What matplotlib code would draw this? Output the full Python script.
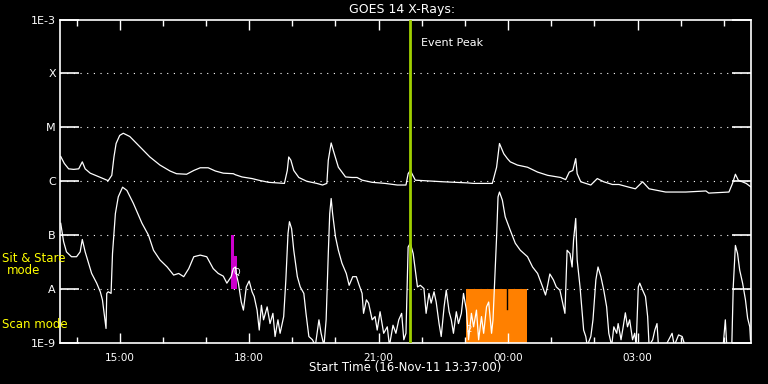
import datetime as dt
import numpy as np
import matplotlib
matplotlib.use('Agg')
import matplotlib.pyplot as plt
import matplotlib.dates as mdates

start = dt.datetime(2011, 11, 16, 13, 37)
span_hours = 16

# long channel (1-8 A): minutes after start, log10 flux
long_min = [1, 6, 12, 19, 26, 31, 35, 42, 51, 60, 67, 72, 75, 78, 83, 88, 97, 111,
            125, 139, 153, 162, 176, 186, 195, 206, 216, 227, 241, 244, 253, 267,
            276, 290, 312, 316, 318, 321, 325, 332, 343, 357, 365, 371, 373, 377,
            380, 387, 397, 406, 413, 420, 434, 452, 469, 481, 484, 487, 494, 533,
            566, 575, 601, 607, 611, 617, 622, 626, 636, 650, 664, 678, 696, 703,
            708, 713, 717, 719, 724, 731, 738, 747, 756, 768, 777, 791, 800, 810,
            819, 842, 870, 898, 902, 930, 935, 939, 943, 954, 960]
long_log = [-5.54, -5.67, -5.77, -5.78, -5.77, -5.64, -5.77, -5.85, -5.90, -5.95,
            -5.99, -5.89, -5.55, -5.30, -5.15, -5.11, -5.17, -5.36, -5.55, -5.70,
            -5.81, -5.86, -5.87, -5.80, -5.75, -5.75, -5.81, -5.85, -5.86, -5.88,
            -5.92, -5.95, -5.98, -6.02, -6.04, -5.80, -5.55, -5.61, -5.80, -5.93,
            -6.00, -6.04, -6.07, -6.04, -5.61, -5.29, -5.43, -5.74, -5.92, -5.93,
            -5.93, -5.98, -6.02, -6.04, -6.07, -6.07, -5.86, -5.80, -5.98, -6.01,
            -6.03, -6.04, -6.04, -5.74, -5.30, -5.49, -5.58, -5.64, -5.70, -5.74,
            -5.83, -5.89, -5.93, -5.97, -5.83, -5.80, -5.58, -5.86, -6.01, -6.04,
            -6.07, -5.95, -6.01, -6.06, -6.06, -6.11, -6.14, -6.01, -6.14, -6.20,
            -6.20, -6.18, -6.22, -6.20, -6.04, -5.87, -5.98, -6.04, -6.10]

# short channel (0.5-4 A)
short_min = [1, 5, 9, 16, 23, 28, 31, 35, 39, 44, 51, 56, 59, 62, 64, 65, 67, 71, 73,
             77, 81, 87, 93, 102, 114, 123, 130, 139, 149, 158, 165, 172, 179, 186,
             195, 204, 213, 220, 227, 232, 238, 241, 244, 246, 248, 252, 255, 259,
             263, 267, 270, 274, 277, 280, 283, 288, 292, 296, 299, 303, 306, 311,
             314, 317, 319, 322, 325, 330, 334, 339, 342, 346, 351, 355, 360, 363,
             367, 370, 373, 375, 377, 379, 383, 387, 392, 398, 402, 407, 412, 416,
             420, 422, 426, 429, 434, 438, 441, 445, 450, 455, 458, 463, 467, 471,
             475, 478, 481, 484, 487, 491, 494, 497, 501, 506, 509, 513, 516, 520,
             523, 527, 530, 534, 537, 541, 544, 547, 551, 554, 558, 561, 565, 568,
             572, 575, 579, 582, 586, 589, 593, 596, 600, 602, 604, 607, 609, 611,
             615, 619, 626, 633, 640, 650, 657, 664, 671, 675, 678, 681, 686, 690,
             695, 700, 702, 705, 709, 712, 714, 717, 719, 723, 726, 728, 731, 733,
             738, 741, 745, 748, 752, 756, 760, 763, 767, 770, 774, 776, 780, 783,
             786, 789, 792, 796, 799, 801, 804, 806, 810, 814, 817, 819, 824, 827,
             830, 832, 842, 851, 854, 860, 865, 869, 907, 922, 925, 927, 934, 936,
             939, 942, 945, 949, 953, 956, 959, 960]
short_log = [-6.78, -7.12, -7.31, -7.40, -7.40, -7.31, -7.08, -7.31, -7.49, -7.71,
             -7.89, -8.05, -8.20, -8.51, -8.73, -8.08, -8.05, -8.08, -7.34, -6.60,
             -6.29, -6.11, -6.17, -6.41, -6.78, -7.00, -7.28, -7.46, -7.59, -7.74,
             -7.71, -7.77, -7.62, -7.40, -7.37, -7.40, -7.62, -7.71, -7.76, -7.89,
             -7.77, -7.62, -7.59, -7.77, -7.89, -8.24, -8.39, -7.96, -7.85, -8.05,
             -8.14, -8.39, -8.76, -8.30, -8.57, -8.33, -8.64, -8.45, -8.88, -8.57,
             -8.82, -8.51, -7.83, -6.97, -6.75, -6.88, -7.28, -7.77, -7.96, -8.08,
             -8.45, -8.88, -8.94, -9.05, -8.57, -8.82, -9.05, -8.57, -7.34, -6.60,
             -6.32, -6.60, -7.03, -7.28, -7.52, -7.71, -7.93, -7.77, -7.77, -7.93,
             -8.08, -8.45, -8.20, -8.26, -8.57, -8.51, -8.76, -8.42, -8.82, -8.70,
             -9.05, -8.67, -8.82, -8.57, -8.45, -8.94, -8.82, -7.22, -7.15, -7.34,
             -7.65, -7.96, -7.93, -7.99, -8.45, -8.08, -8.26, -8.05, -8.24, -8.64,
             -8.88, -8.33, -8.02, -8.42, -8.57, -8.82, -8.42, -8.64, -8.45, -8.08,
             -8.39, -8.94, -8.45, -8.70, -8.39, -8.94, -8.51, -8.82, -8.33, -8.24,
             -8.82, -8.57, -7.96, -7.03, -6.29, -6.20, -6.35, -6.66, -6.91, -7.15,
             -7.28, -7.40, -7.59, -7.71, -7.96, -8.11, -7.93, -7.72, -7.83, -7.96,
             -8.02, -8.33, -8.45, -7.28, -7.34, -7.59, -7.09, -6.69, -7.46, -7.96,
             -8.45, -8.76, -8.88, -9.05, -8.88, -8.57, -7.83, -7.59, -7.77, -8.02,
             -8.33, -8.82, -9.05, -8.70, -8.82, -8.64, -8.94, -8.70, -8.44, -8.70,
             -8.57, -8.94, -8.82, -9.05, -7.96, -7.89, -8.02, -8.14, -8.51, -9.05,
             -8.94, -8.76, -8.64, -9.05, -9.05, -8.82, -9.05, -8.85, -8.88, -9.05,
             -9.05, -9.05, -8.57, -9.05, -9.05, -7.96, -7.19, -7.34, -7.65, -7.89,
             -8.20, -8.54, -8.70, -8.94]

peak_min = 486
stare_min = [238, 242, 246]
stare_top = [-7.0, -7.39, -7.39]
scan_min = [564, 649]
scan_gap_min = 622
scan_gap_log = -8.37
level_logs = [-3, -4, -5, -6, -7, -8, -9]
level_labels = ['1E-3', 'X', 'M', 'C', 'B', 'A', '1E-9']


def to_time(mins):
    return [start + dt.timedelta(minutes=m) for m in mins]


fig = plt.figure(figsize=(7.68, 3.84), dpi=100, facecolor='black')
ax = fig.add_axes([60 / 768, 41 / 384, 690.5 / 768, 323.5 / 384])
ax.set_facecolor('black')

# mode bars
ax.fill_between(to_time(stare_min), 1e-8, 10 ** np.array(stare_top), step='post',
                color='#cc00cc', lw=0, zorder=1)
ax.fill_between(to_time(scan_min), 1e-9, 1e-8, color='#ff8000', lw=0, zorder=1)
gap_t = to_time([scan_gap_min])[0]
ax.plot([gap_t, gap_t], [1e-8, 10 ** scan_gap_log], color='black', lw=1, zorder=2)

ax.plot(to_time(long_min), 10 ** np.array(long_log), color='white', lw=0.9, zorder=3)
ax.plot(to_time(short_min), 10 ** np.array(short_log), color='white', lw=0.9, zorder=3)

peak_t = to_time([peak_min])[0]
ax.axvline(peak_t, color='#a0d000', lw=2, zorder=4)
ax.annotate('Event Peak', xy=(peak_t, 10 ** -3.44), xytext=(8, 0),
            textcoords='offset points', va='center', ha='left', color='white', fontsize=8)

ax.text(to_time([241])[0], 10 ** -7.7, 'Q', color='white', fontsize=6, ha='left', va='center', zorder=5)
ax.text(to_time([565])[0], 10 ** -8.75, '2', color='white', fontsize=6, ha='left', va='center', zorder=5)

ax.set_yscale('log')
ax.set_ylim(1e-9, 1e-3)
ax.set_xlim(start, start + dt.timedelta(hours=span_hours))
ax.set_yticks([10.0 ** v for v in level_logs])
ax.set_yticklabels(level_labels)
ax.yaxis.set_minor_locator(matplotlib.ticker.NullLocator())
for v in level_logs[1:-1]:
    ax.axhline(10.0 ** v, color='white', lw=0.8, ls=(0, (1, 5)), zorder=0)

ax.xaxis.set_major_locator(mdates.HourLocator(byhour=range(0, 24, 3)))
ax.xaxis.set_minor_locator(mdates.HourLocator())
ax.xaxis.set_major_formatter(mdates.DateFormatter('%H:%M'))

for s in ax.spines.values():
    s.set_color('white')
    s.set_linewidth(1.2)
ax.tick_params(axis='y', which='major', direction='in', length=14, width=1.2,
               colors='white', right=True, labelsize=8, pad=3)
ax.tick_params(axis='x', which='major', direction='in', length=7, width=1,
               colors='white', top=True, labelsize=7.5, pad=7)
ax.tick_params(axis='x', which='minor', direction='in', length=4, width=1,
               colors='white', top=True)

fig.text(0.523, 0.974, 'GOES 14 X-Rays:', color='white', fontsize=9, ha='center', va='center')
fig.text(0.527, 0.042, 'Start Time (16-Nov-11 13:37:00)', color='white', fontsize=8.5,
         ha='center', va='center')
fig.text(2 / 768, 1 - 259 / 384, 'Sit & Stare', color='#ffff00', fontsize=8.5, va='center')
fig.text(24 / 768, 1 - 271 / 384, 'mode', color='#ffff00', fontsize=8.5, va='center', ha='center')
fig.text(2 / 768, 1 - 324 / 384, 'Scan mode', color='#ffff00', fontsize=8.5, va='center')

fig.savefig('out.png', dpi=100, facecolor='black')
